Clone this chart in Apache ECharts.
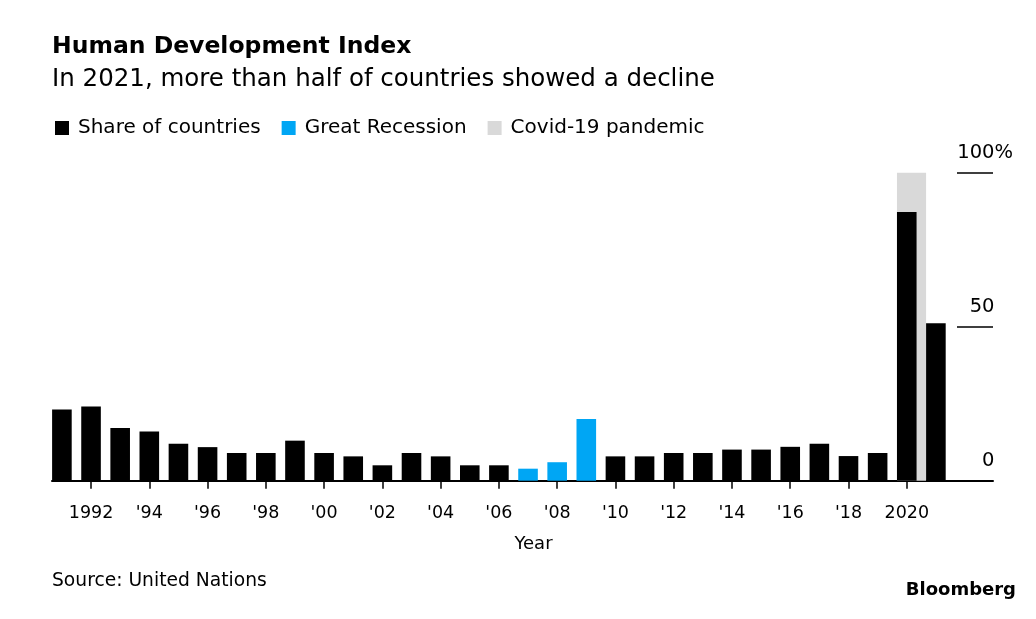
<!DOCTYPE html>
<html>
<head>
<meta charset="utf-8">
<script src="https://cdn.jsdelivr.net/npm/echarts@6/dist/echarts.min.js"></script>
<style>
html,body{margin:0;padding:0;background:#fff;}
#chart{width:1036px;height:619px;}
</style>
</head>
<body>
<div id="chart"></div>
<script>
const years = [1991,1992,1993,1994,1995,1996,1997,1998,1999,2000,2001,2002,2003,2004,2005,2006,2007,2008,2009,2010,2011,2012,2013,2014,2015,2016,2017,2018,2019,2020,2021];
const shareValues = [23.1,24.1,17.1,16.0,12.0,10.9,9.0,9.0,13.0,9.0,7.9,5.0,9.0,7.9,5.0,5.0,3.9,6.0,20.0,7.9,7.9,9.0,9.0,10.1,10.1,11.0,12.0,8.0,9.0,87.2,51.1];
const recessionYears = [2007,2008,2009];
const covidYears = [2020];
const tickYears = [1992,1994,1996,1998,2000,2002,2004,2006,2008,2010,2012,2014,2016,2018,2020];
const tickLabels = ['1992',"'94","'96","'98","'00","'02","'04","'06","'08","'10","'12","'14","'16","'18",'2020'];
const yTickLabels = {0:'0',50:'50',100:'100%'};

const FONT = 'DejaVu Sans';
const blackData = [], blueData = [];
years.forEach((y,i)=>{
  if (recessionYears.includes(y)) blueData.push([y, shareValues[i]]);
  else blackData.push([y, shareValues[i]]);
});
const barW = 19.6;
const pxPerYear = 29.13;
const halfBarYears = (barW/2)/pxPerYear;
const covidAreas = covidYears.map(y => [{xAxis: y - halfBarYears, yAxis: 0}, {xAxis: y + 1 - halfBarYears, yAxis: 100}]);

const chart = echarts.init(document.getElementById('chart'));
chart.setOption({
  backgroundColor:'#fff',
  animation:false,
  textStyle:{fontFamily:FONT},
  title:[
    {text:'Human Development Index', left:52, top:35, padding:0,
     textStyle:{fontFamily:FONT, fontSize:23.5, fontWeight:'bold', color:'#000', lineHeight:24}},
    {text:'In 2021, more than half of countries showed a decline', left:52, top:67, padding:0,
     textStyle:{fontFamily:FONT, fontSize:24.5, fontWeight:'normal', color:'#000', lineHeight:25}},
    {text:'Source: United Nations', left:52, top:572, padding:0,
     textStyle:{fontFamily:FONT, fontSize:18.7, fontWeight:'normal', color:'#000', lineHeight:19}},
    {text:'Bloomberg', right:20, top:581, padding:0,
     textStyle:{fontFamily:FONT, fontSize:18, fontWeight:'bold', color:'#000', lineHeight:18}}
  ],
  legend:{
    left:55, top:118, padding:0, itemWidth:14, itemHeight:14, itemGap:21, icon:'rect',
    data:['Share of countries','Great Recession','Covid-19 pandemic'],
    textStyle:{fontFamily:FONT, fontSize:20, color:'#000', padding:[0,0,0,4]},
    selectedMode:false
  },
  grid:{left:52, right:43, top:172.7, bottom:138.3, containLabel:false},
  xAxis:{
    type:'value', min:1990.66, max:2022.96,
    name:'Year', nameLocation:'middle', nameGap:55,
    nameTextStyle:{fontFamily:FONT, fontSize:18, color:'#000', padding:[0,0,0,22], lineHeight:18},
    axisLine:{show:true, onZero:false, lineStyle:{color:'#000', width:2}},
    axisTick:{show:true, customValues:tickYears, length:8, lineStyle:{color:'#000', width:1.5}},
    axisLabel:{customValues:tickYears, margin:24, fontFamily:FONT, fontSize:17.5, color:'#000', lineHeight:18,
      formatter:(v)=>{const i = tickYears.indexOf(Math.round(v)); return i>=0 ? tickLabels[i] : '';}},
    splitLine:{show:false}
  },
  yAxis:{
    type:'value', position:'right', min:0, max:100, interval:50,
    axisLine:{show:false},
    axisTick:{show:true, inside:true, length:36, lineStyle:{color:'#000', width:1.5}},
    splitLine:{show:false},
    axisLabel:{margin:20, align:'right', verticalAlign:'bottom', padding:[0,0,10,0],
      fontFamily:FONT, fontSize:19.5, color:'#000', lineHeight:20,
      formatter:(v)=> v===100 ? '{n|'+yTickLabels[v]+'}' : '{n|'+yTickLabels[v]+'}{s| }',
      rich:{n:{fontFamily:FONT, fontSize:19.5, color:'#000', lineHeight:20}, s:{width:18.5, fontSize:19.5, lineHeight:20}}
    }
  },
  series:[
    {name:'Covid-19 pandemic', type:'bar', stack:'a', data:[], barWidth:barW,
     itemStyle:{color:'#d9d9d9'},
     markArea:{silent:true, z:1, itemStyle:{color:'#d9d9d9'}, data:covidAreas}},
    {name:'Share of countries', type:'bar', stack:'a', data:blackData, barWidth:barW, itemStyle:{color:'#000'}, z:3},
    {name:'Great Recession', type:'bar', stack:'a', data:blueData, barWidth:barW, itemStyle:{color:'#00a6f4'}, z:3}
  ]
});
</script>
</body>
</html>
